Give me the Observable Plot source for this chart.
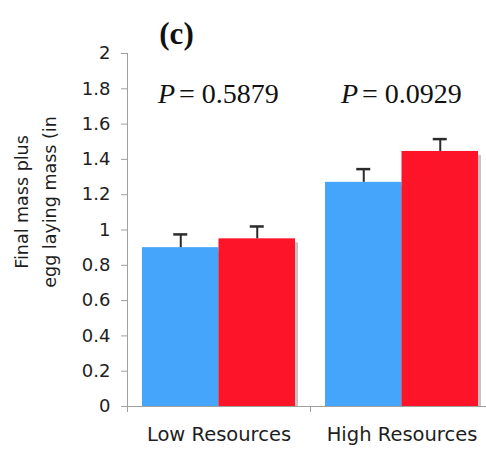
<!DOCTYPE html>
<html>
<head>
<meta charset="utf-8">
<script src="https://cdn.jsdelivr.net/npm/d3@7"></script>
<script src="https://cdn.jsdelivr.net/npm/@observablehq/plot@0.6"></script>
<style>
  html, body { margin: 0; padding: 0; background: #fff; overflow: hidden; }
</style>
</head>
<body>
<div id="chart"></div>
<script>
// ---- data ----
const resources = ["Low Resources", "High Resources"];
const blueMeans = [0.90, 1.27];
const blueUpper = [0.975, 1.345];
const redMeans = [0.95, 1.445];
const redUpper = [1.02, 1.515];
const pValues = ["0.5879", "0.0929"];
const yTicks = [0, 0.2, 0.4, 0.6, 0.8, 1, 1.2, 1.4, 1.6, 1.8, 2];
const panelLabel = "(c)";
const yLabel = "Final mass plus\negg laying mass (in";

const blueData = resources.map((r, i) => ({resource: r, mean: blueMeans[i], upper: blueUpper[i]}));
const redData = resources.map((r, i) => ({resource: r, mean: redMeans[i], upper: redUpper[i]}));
const pData = resources.map((r, i) => ({resource: r, p: pValues[i]}));

// ---- layout ----
const W = 486, H = 451, mL = 127, mR = -7, mT = 53, mB = 45;
const bw = (W - mL - mR) / 2;     // band width
const pad = 15;                   // outer gap of each group
const barW = bw / 2 - pad;
const off = barW / 2;             // bar centre offset from band centre
const capW = 14;

const blue = "#44a5fb";
const red = "#fe1428";
const axisGray = "#a0a0a0";
const ink = "#2a2a2a";
const serif = "Liberation Serif, Times New Roman, serif";

const chart = Plot.plot({
  width: W, height: H,
  marginLeft: mL, marginRight: mR, marginTop: mT, marginBottom: mB,
  style: {fontFamily: "DejaVu Sans, Verdana, sans-serif", background: "white", color: "#222"},
  x: {domain: resources, padding: 0, axis: null},
  y: {domain: [0, 2], axis: null},
  marks: [
    // shadows
    Plot.barY(blueData, {x: "resource", y: "mean", fill: "#c4c4c4", insetLeft: pad, insetRight: bw / 2, dx: 3, dy: 4, insetBottom: 4}),
    Plot.barY(redData, {x: "resource", y: "mean", fill: "#c4c4c4", insetLeft: bw / 2, insetRight: pad, dx: 3, dy: 4, insetBottom: 4}),
    // bars
    Plot.barY(blueData, {x: "resource", y: "mean", fill: blue, insetLeft: pad, insetRight: bw / 2}),
    Plot.barY(redData, {x: "resource", y: "mean", fill: red, insetLeft: bw / 2, insetRight: pad}),
    // error bars (upper only)
    Plot.ruleX(blueData, {x: "resource", y1: "mean", y2: "upper", dx: -off, stroke: ink, strokeWidth: 2}),
    Plot.ruleX(redData, {x: "resource", y1: "mean", y2: "upper", dx: off, stroke: ink, strokeWidth: 2}),
    Plot.tickY(blueData, {x: "resource", y: "upper", dx: -off, insetLeft: (bw - capW) / 2, insetRight: (bw - capW) / 2, stroke: ink, strokeWidth: 2.5}),
    Plot.tickY(redData, {x: "resource", y: "upper", dx: off, insetLeft: (bw - capW) / 2, insetRight: (bw - capW) / 2, stroke: ink, strokeWidth: 2.5}),
    // axes
    Plot.frame({anchor: "left", stroke: axisGray}),
    Plot.ruleY([0], {stroke: axisGray}),
    Plot.axisY({ticks: yTicks, tickSize: 6, tickPadding: 11, tickFormat: d3.format("~g"), fontSize: 18, stroke: axisGray, fill: "#1e1e1e", label: null}),
    Plot.axisX({ticks: resources, text: null, tickSize: 6, dx: -bw / 2, stroke: axisGray, label: null}),
    Plot.axisX({ticks: resources, tickSize: 0, tickPadding: 21, fontSize: 19.5, fill: "#1e1e1e", label: null}),
    // y label
    Plot.text([yLabel], {frameAnchor: "left", rotate: -90, dx: -94, dy: -28, fontSize: 17.5, lineHeight: 1.6, textAnchor: "middle", lineAnchor: "middle", fill: "#1e1e1e"}),
    // P values
    Plot.text(pData, {x: "resource", text: () => "P", frameAnchor: "top", dy: 41, dx: -44, textAnchor: "end", lineAnchor: "middle", fontFamily: serif, fontStyle: "italic", fontSize: 28, fill: "#111"}),
    Plot.text(pData, {x: "resource", text: d => "= " + d.p, frameAnchor: "top", dy: 41, dx: -40, textAnchor: "start", lineAnchor: "middle", fontFamily: serif, fontSize: 28, fill: "#111"}),
    // panel label
    Plot.text([panelLabel], {frameAnchor: "top-left", dx: 49, dy: -19, textAnchor: "middle", lineAnchor: "middle", fontFamily: serif, fontWeight: "bold", fontSize: 31, fill: "#111"})
  ]
});
document.getElementById("chart").appendChild(chart);
</script>
</body>
</html>
